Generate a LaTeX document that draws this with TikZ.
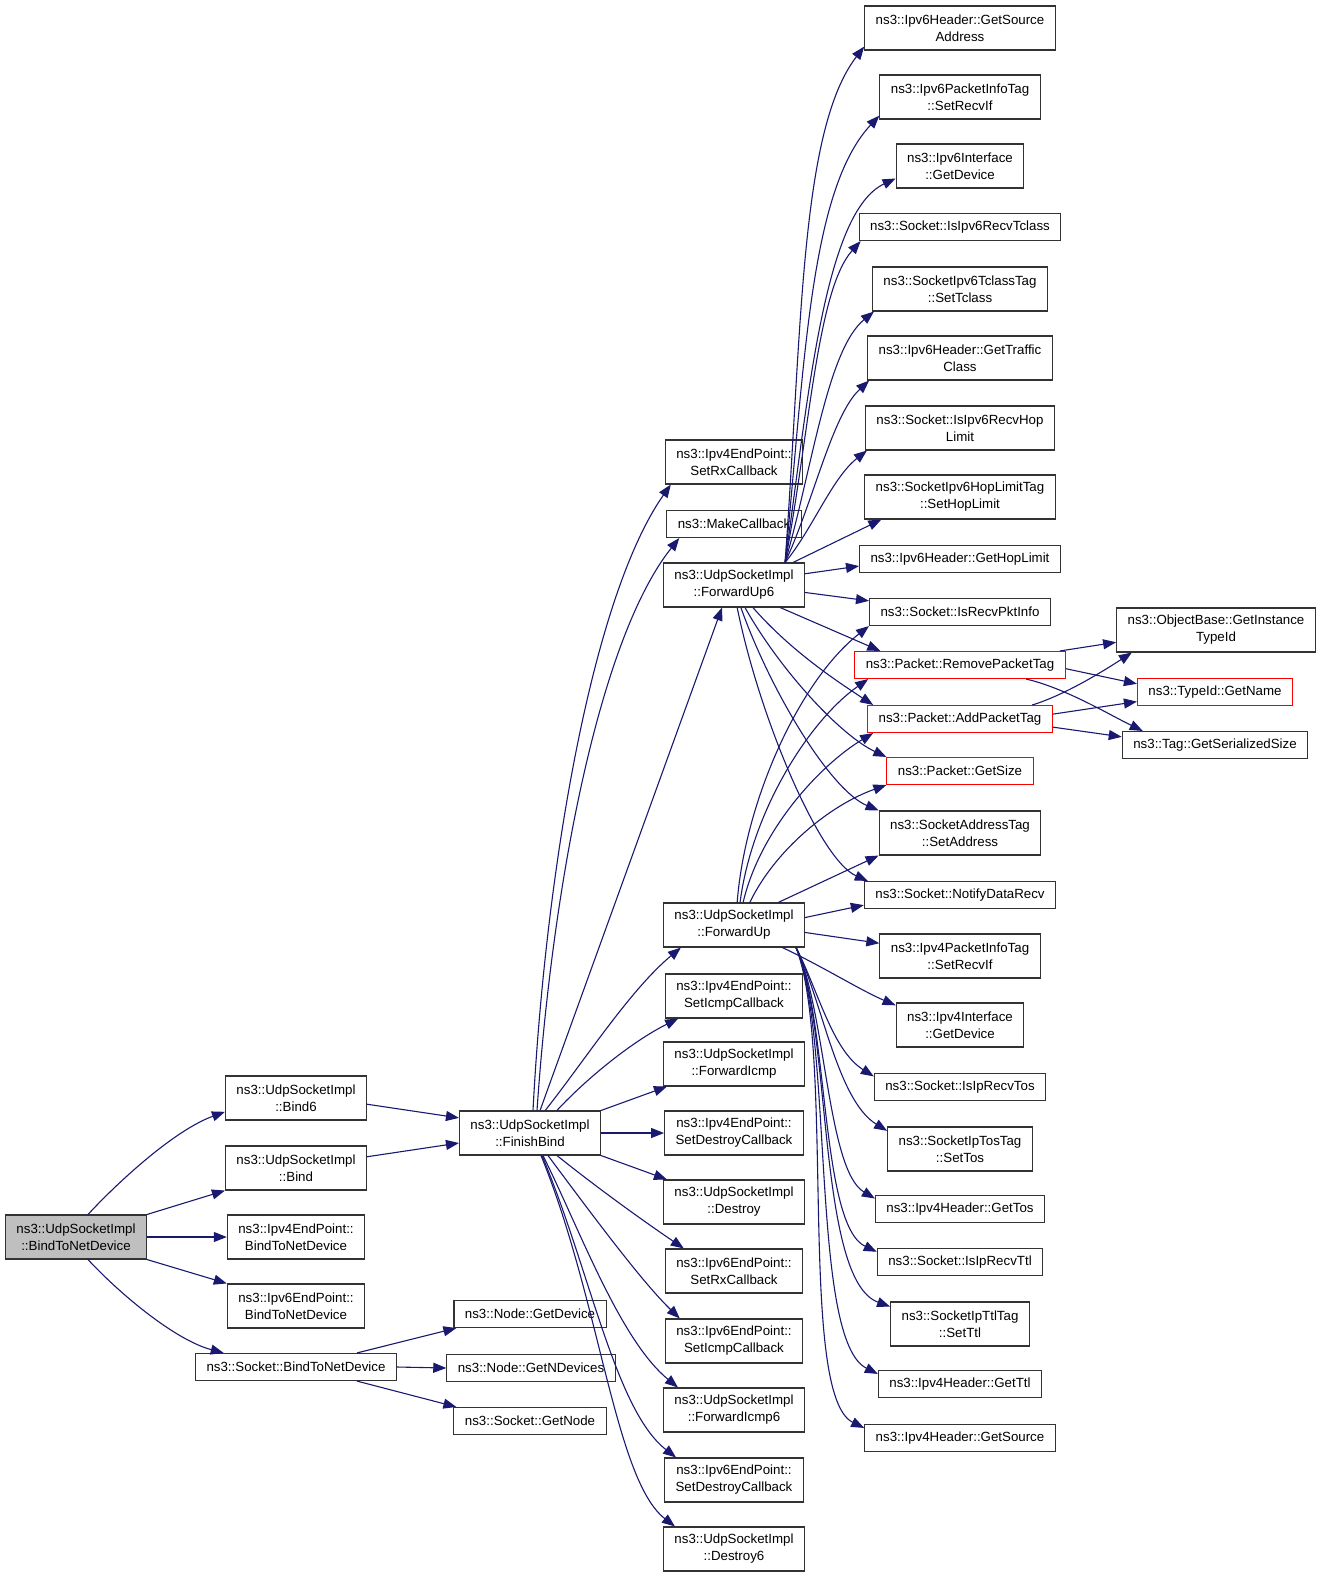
\documentclass[tikz,border=0pt]{standalone}
\usepackage{fontspec}
\setmainfont{Liberation Sans}
\usetikzlibrary{arrows.meta}
\definecolor{callblue}{HTML}{191970}
\newcommand{\gvsize}{\fontsize{13.3}{17}\selectfont}

\begin{document}
\begin{tikzpicture}[x=1pt,y=-1pt,
    func/.style={draw=black!80,line width=1.1pt,align=center,inner xsep=11pt,
      inner ysep=2pt,minimum height=27pt,font=\gvsize},
    tall/.style={minimum height=44pt},
    trunc/.style={draw=red},
    root/.style={fill=black!25},
    call/.style={draw=callblue,line width=1.1pt,-{Triangle[length=13pt,width=10pt]}}]
  % \draw (0,0) rectangle (1320,1577);
  \useasboundingbox (0,0) rectangle (1320,1577);

  \node[func,tall,root] (main) at (76,1237)
    {ns3::UdpSocketImpl\\::BindToNetDevice};

  \node[func,tall] (bind6) at (296,1098) {ns3::UdpSocketImpl\\::Bind6};
  \node[func,tall] (bind) at (296,1168) {ns3::UdpSocketImpl\\::Bind};
  \node[func,tall] (epbind4) at (296,1237) {ns3::Ipv4EndPoint::\\BindToNetDevice};
  \node[func,tall] (epbind6) at (296,1306) {ns3::Ipv6EndPoint::\\BindToNetDevice};
  \node[func] (sockbind) at (296,1367) {ns3::Socket::BindToNetDevice};

  \node[func,tall] (finish) at (530,1133) {ns3::UdpSocketImpl\\::FinishBind};
  \node[func] (getdev) at (530,1314) {ns3::Node::GetDevice};
  \node[func] (getndev) at (531,1368) {ns3::Node::GetNDevices};
  \node[func] (getnode) at (530,1421) {ns3::Socket::GetNode};

  \node[func,tall] (rxcb4) at (734,462) {ns3::Ipv4EndPoint::\\SetRxCallback};
  \node[func] (mkcb) at (734,524) {ns3::MakeCallback};
  \node[func,tall] (fwup6) at (734,585) {ns3::UdpSocketImpl\\::ForwardUp6};
  \node[func,tall] (fwup) at (734,925) {ns3::UdpSocketImpl\\::ForwardUp};
  \node[func,tall] (icmpcb4) at (734,996) {ns3::Ipv4EndPoint::\\SetIcmpCallback};
  \node[func,tall] (fwicmp) at (734,1064) {ns3::UdpSocketImpl\\::ForwardIcmp};
  \node[func,tall] (dstcb4) at (734,1133) {ns3::Ipv4EndPoint::\\SetDestroyCallback};
  \node[func,tall] (destroy) at (734,1202) {ns3::UdpSocketImpl\\::Destroy};
  \node[func,tall] (rxcb6) at (734,1271) {ns3::Ipv6EndPoint::\\SetRxCallback};
  \node[func,tall] (icmpcb6) at (734,1341) {ns3::Ipv6EndPoint::\\SetIcmpCallback};
  \node[func,tall] (fwicmp6) at (734,1410) {ns3::UdpSocketImpl\\::ForwardIcmp6};
  \node[func,tall] (dstcb6) at (734,1480) {ns3::Ipv6EndPoint::\\SetDestroyCallback};
  \node[func,tall] (destroy6) at (734,1549) {ns3::UdpSocketImpl\\::Destroy6};

  \node[func,tall] (srcaddr6) at (960,28) {ns3::Ipv6Header::GetSource\\Address};
  \node[func,tall] (recvif6) at (960,97) {ns3::Ipv6PacketInfoTag\\::SetRecvIf};
  \node[func,tall] (ifdev6) at (960,166) {ns3::Ipv6Interface\\::GetDevice};
  \node[func] (istclass) at (960,227) {ns3::Socket::IsIpv6RecvTclass};
  \node[func,tall] (settclass) at (960,289) {ns3::SocketIpv6TclassTag\\::SetTclass};
  \node[func,tall] (tclass) at (960,358) {ns3::Ipv6Header::GetTraffic\\Class};
  \node[func,tall] (ishop) at (960,428) {ns3::Socket::IsIpv6RecvHop\\Limit};
  \node[func,tall] (sethop) at (960,497) {ns3::SocketIpv6HopLimitTag\\::SetHopLimit};
  \node[func] (gethop) at (960,559) {ns3::Ipv6Header::GetHopLimit};
  \node[func] (pktinfo) at (960,612) {ns3::Socket::IsRecvPktInfo};
  \node[func,trunc] (rmtag) at (960,665) {ns3::Packet::RemovePacketTag};
  \node[func,trunc] (addtag) at (960,719) {ns3::Packet::AddPacketTag};
  \node[func,trunc] (getsize) at (960,771) {ns3::Packet::GetSize};
  \node[func,tall] (setaddr) at (960,833) {ns3::SocketAddressTag\\::SetAddress};
  \node[func] (notify) at (960,895) {ns3::Socket::NotifyDataRecv};
  \node[func,tall] (recvif4) at (960,956) {ns3::Ipv4PacketInfoTag\\::SetRecvIf};
  \node[func,tall] (ifdev4) at (960,1025) {ns3::Ipv4Interface\\::GetDevice};
  \node[func] (istos) at (960,1087) {ns3::Socket::IsIpRecvTos};
  \node[func,tall] (settos) at (960,1149) {ns3::SocketIpTosTag\\::SetTos};
  \node[func] (gettos) at (960,1209) {ns3::Ipv4Header::GetTos};
  \node[func] (isttl) at (960,1262) {ns3::Socket::IsIpRecvTtl};
  \node[func,tall] (setttl) at (960,1324) {ns3::SocketIpTtlTag\\::SetTtl};
  \node[func] (getttl) at (960,1384) {ns3::Ipv4Header::GetTtl};
  \node[func] (srcaddr4) at (960,1438) {ns3::Ipv4Header::GetSource};

  \node[func,tall] (insttid) at (1216,630) {ns3::ObjectBase::GetInstance\\TypeId};
  \node[func,trunc] (tidname) at (1215,692) {ns3::TypeId::GetName};
  \node[func] (sersize) at (1215,745) {ns3::Tag::GetSerializedSize};

  \draw[call] (main.62) .. controls (120,1180) and (175,1130) .. (bind6.191);
  \draw[call] (main.north east) -- (bind.south west);
  \draw[call] (main.east) -- (epbind4.west);
  \draw[call] (main.south east) -- (epbind6.north west);
  \draw[call] (main.-62) .. controls (120,1294) and (175,1340) .. (sockbind.169);

  \draw[call] (bind6.-5) -- (finish.168);
  \draw[call] (bind.9) -- (finish.188);

  \draw[call] (sockbind.13) -- ([xshift=3]getdev.south west);
  \draw[call] (sockbind.east) -- (getndev.west);
  \draw[call] (sockbind.-13) -- ([xshift=3]getnode.north west);

  \draw[call] ([xshift=3]finish.north) .. controls (545,880) and (590,600)
    .. ([xshift=6]rxcb4.south west);
  \draw[call] ([xshift=7]finish.north) .. controls (552,890) and (598,640)
    .. ([xshift=13]mkcb.south west);
  \draw[call] (finish.66) -- (fwup6.242);
  \draw[call] (finish.56) .. controls (585,1060) and (630,990) .. (fwup.203);
  \draw[call] (finish.40) .. controls (590,1075) and (635,1040) .. (icmpcb4.202);
  \draw[call] (finish.north east) -- ([xshift=4]fwicmp.south west);
  \draw[call] (finish.east) -- (dstcb4.west);
  \draw[call] (finish.south east) -- ([xshift=4]destroy.north west);
  \draw[call] ([xshift=27]finish.south) .. controls (600,1190) and (645,1222)
    .. ([xshift=19]rxcb6.north west);
  \draw[call] ([xshift=18]finish.south) .. controls (585,1205) and (640,1280)
    .. ([xshift=15]icmpcb6.north west);
  \draw[call] ([xshift=13]finish.south) .. controls (580,1230) and (620,1340)
    .. ([xshift=15]fwicmp6.north west);
  \draw[call] ([xshift=12]finish.south) .. controls (590,1270) and (615,1410)
    .. ([xshift=12]dstcb6.north west);
  \draw[call] ([xshift=11]finish.south) .. controls (600,1300) and (615,1480)
    .. ([xshift=12]destroy6.north west);

  \draw[call] ([xshift=-20]fwup6.north east) .. controls (802,330) and (800,130)
    .. (srcaddr6.191);
  \draw[call] ([xshift=-20]fwup6.north east) .. controls (805,360) and (810,190)
    .. (recvif6.193);
  \draw[call] ([xshift=-20]fwup6.north east) .. controls (808,400) and (824,212)
    .. (ifdev6.191);
  \draw[call] ([xshift=-20]fwup6.north east) .. controls (810,430) and (817,290)
    .. ([xshift=2]istclass.south west);
  \draw[call] ([xshift=-20]fwup6.north east) .. controls (812,470) and (827,350)
    .. ([xshift=2]settclass.south west);
  \draw[call] ([xshift=-20]fwup6.north east) .. controls (814,500) and (832,415)
    .. ([xshift=2]tclass.south west);
  \draw[call] ([xshift=-20]fwup6.north east) .. controls (812,530) and (832,478)
    .. ([xshift=2]ishop.south west);
  \draw[call] ([xshift=-12]fwup6.north east) -- (sethop.196);
  \draw[call] (fwup6.9) -- (gethop.184);
  \draw[call] (fwup6.-6) -- (pktinfo.173);
  \draw[call] (fwup6.-26) -- (rmtag.170);
  \draw[call] (fwup6.-50) .. controls (790,650) and (835,680)
    .. ([xshift=6]addtag.north west);
  \draw[call] (fwup6.-64) .. controls (780,670) and (840,735) .. (getsize.north west);
  \draw[call] (fwup6.-73) .. controls (770,690) and (830,790) .. (setaddr.north west);
  \draw[call] (fwup6.-82) .. controls (760,720) and (820,860)
    .. ([xshift=4]notify.north west);

  \draw[call] (fwup.82) .. controls (745,800) and (800,680) .. (pktinfo.south west);
  \draw[call] (fwup.75) .. controls (752,810) and (810,720)
    .. ([xshift=14]rmtag.south west);
  \draw[call] (fwup.68) .. controls (760,830) and (820,765)
    .. ([xshift=6]addtag.south west);
  \draw[call] (fwup.55) .. controls (775,850) and (830,805) .. (getsize.south west);
  \draw[call] (fwup.27) -- (setaddr.south west);
  \draw[call] (fwup.6) -- (notify.186);
  \draw[call] (fwup.-6) -- (recvif4.171);
  \draw[call] (fwup.-25) .. controls (820,965) and (860,990) .. (ifdev4.163);
  \draw[call] ([xshift=-9]fwup.south east) .. controls (818,990) and (832,1050)
    .. (istos.173);
  \draw[call] ([xshift=-9]fwup.south east) .. controls (822,1000) and (837,1100)
    .. (settos.166);
  \draw[call] ([xshift=-9]fwup.south east) .. controls (826,1010) and (827,1170)
    .. (gettos.173);
  \draw[call] ([xshift=-9]fwup.south east) .. controls (829,1020) and (820,1225)
    .. (isttl.173);
  \draw[call] ([xshift=-9]fwup.south east) .. controls (832,1030) and (817,1280)
    .. (setttl.166);
  \draw[call] ([xshift=-9]fwup.south east) .. controls (834,1040) and (810,1340)
    .. (getttl.173);
  \draw[call] ([xshift=-9]fwup.south east) .. controls (836,1050) and (797,1395)
    .. (srcaddr4.174);

  \draw[call] (rmtag.8) -- (insttid.187);
  \draw[call] (rmtag.-2) -- (tidname.174);
  \draw[call] (rmtag.-12) .. controls (1065,688) and (1110,715) .. (sersize.169);
  \draw[call] (addtag.11) .. controls (1065,695) and (1105,670) .. (insttid.195);
  \draw[call] (addtag.3) -- (tidname.187);
  \draw[call] (addtag.-5) -- (sersize.175);
\end{tikzpicture}
\end{document}
